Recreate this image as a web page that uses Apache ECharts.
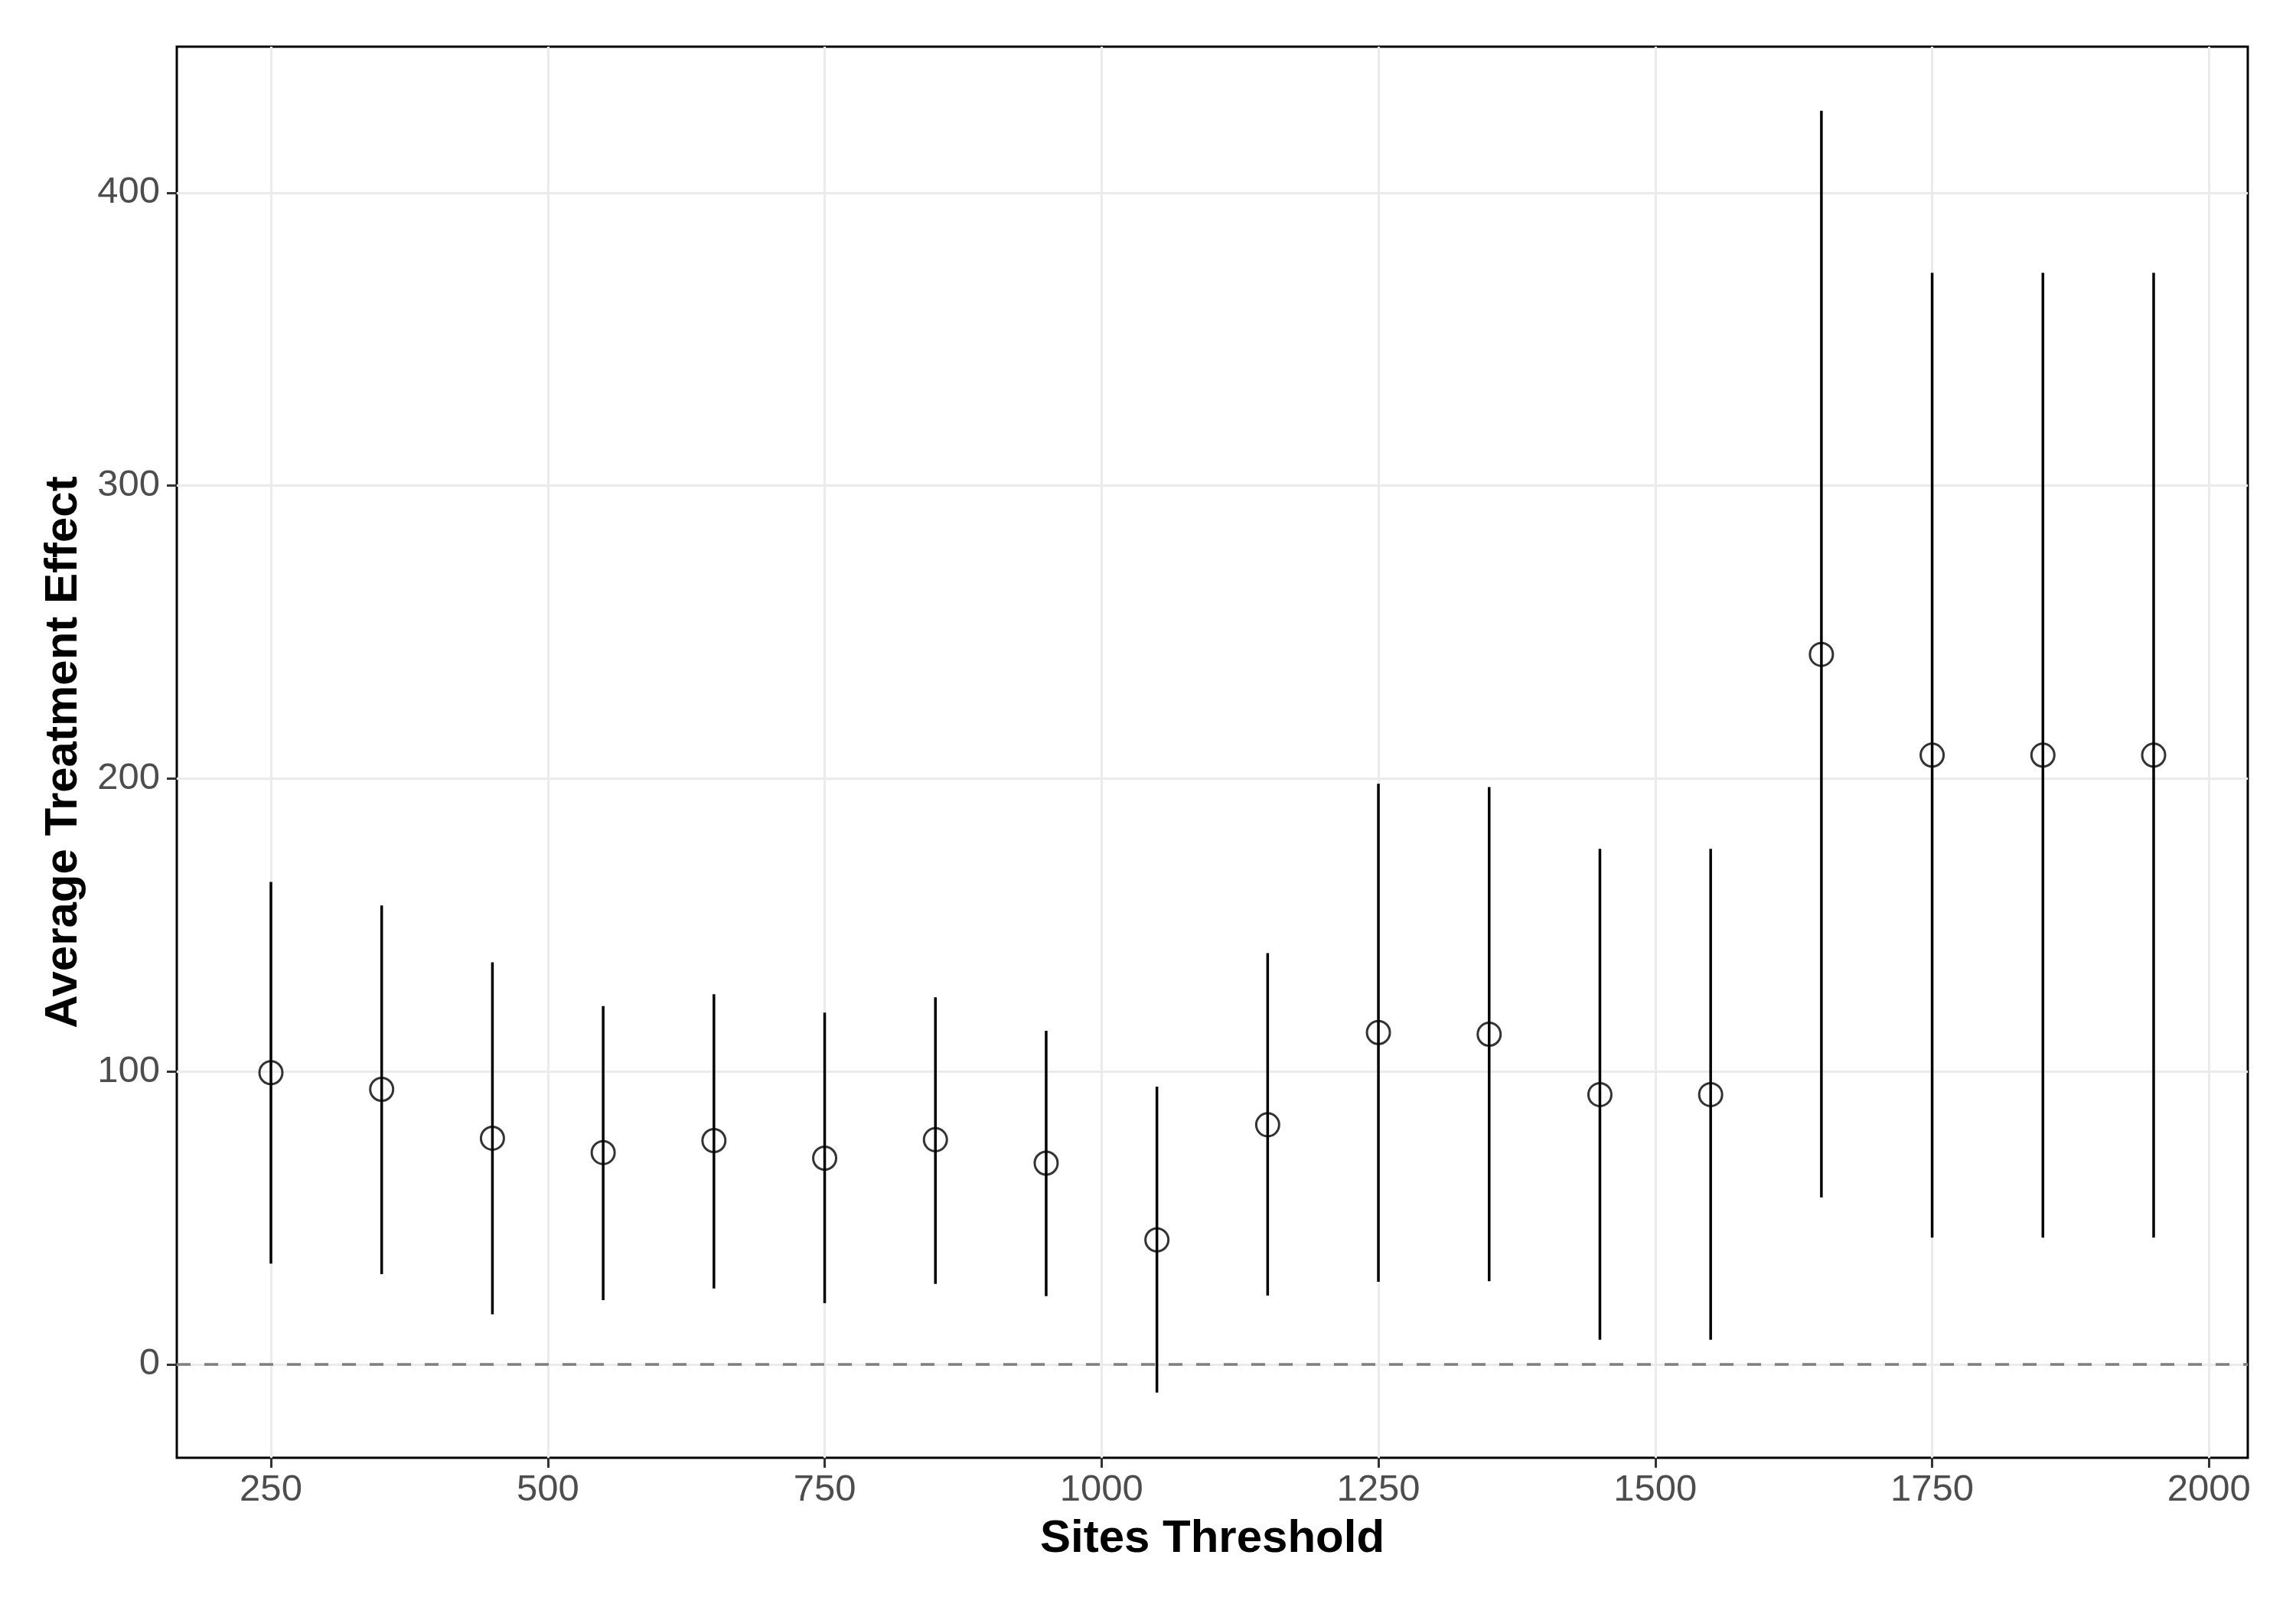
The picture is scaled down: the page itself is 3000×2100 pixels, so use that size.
<!DOCTYPE html>
<html>
<head>
<meta charset="utf-8">
<script src="https://cdn.jsdelivr.net/npm/echarts@6/dist/echarts.min.js"></script>
<style>
html,body{margin:0;padding:0;background:#fff;}
#chart{width:3000px;height:2100px;}
</style>
</head>
<body>
<div id="chart"></div>
<script>
const thresholds = [250, 350, 450, 550, 650, 750, 850, 950, 1050, 1150, 1250, 1350, 1450, 1550, 1650, 1750, 1850, 1950];
const ate = [99.6, 93.9, 77.2, 72.3, 76.4, 70.4, 76.7, 68.7, 42.5, 81.8, 113.3, 112.7, 92.1, 92.1, 242.4, 208.0, 208.0, 208.0];
const lower = [34.4, 30.8, 17.1, 21.9, 25.9, 20.9, 27.5, 23.3, -9.6, 23.5, 28.2, 28.4, 8.4, 8.4, 57.0, 43.3, 43.3, 43.3];
const upper = [164.7, 156.7, 137.3, 122.3, 126.4, 120.1, 125.3, 113.9, 94.8, 140.4, 198.2, 197.1, 176.0, 176.0, 428.0, 372.7, 372.7, 372.7];
const xTicks = [250, 500, 750, 1000, 1250, 1500, 1750, 2000];
const yTicks = [0, 100, 200, 300, 400];

const FONT = 'Liberation Sans';
const chart = echarts.init(document.getElementById('chart'), null, {renderer: 'canvas'});

const barData = thresholds.map((t, i) => [t, lower[i], upper[i]]);
const pointData = thresholds.map((t, i) => [t, ate[i]]);

chart.setOption({
  animation: false,
  backgroundColor: '#ffffff',
  grid: {
    left: 231, right: 63, top: 61, bottom: 195,
    show: true, borderColor: '#000000', borderWidth: 3, backgroundColor: 'transparent'
  },
  xAxis: {
    type: 'value',
    min: 165, max: 2035,
    name: 'Sites Threshold',
    nameLocation: 'middle',
    nameGap: 76,
    nameTextStyle: {fontFamily: FONT, fontWeight: 'bold', fontSize: 60, color: '#000000'},
    axisLine: {show: false, onZero: false},
    axisTick: {show: true, length: 13, lineStyle: {color: '#333333', width: 3}, customValues: xTicks},
    axisLabel: {fontFamily: FONT, fontSize: 49, color: '#4D4D4D', margin: 18, customValues: xTicks,
      formatter: function (v) { return String(v); }},
    splitLine: {show: true, lineStyle: {color: '#EBEBEB', width: 3}}
  },
  yAxis: {
    type: 'value',
    min: -31.9, max: 449.9,
    name: 'Average Treatment Effect',
    nameLocation: 'middle',
    nameGap: 118,
    nameTextStyle: {fontFamily: FONT, fontWeight: 'bold', fontSize: 60, color: '#000000'},
    axisLine: {show: false, onZero: false},
    axisTick: {show: true, length: 13, lineStyle: {color: '#333333', width: 3}, customValues: yTicks},
    axisLabel: {fontFamily: FONT, fontSize: 49, color: '#4D4D4D', margin: 22, customValues: yTicks,
      formatter: function (v) { return String(v); }},
    splitLine: {show: true, lineStyle: {color: '#EBEBEB', width: 3}}
  },
  series: [
    {
      type: 'custom',
      data: barData,
      z: 3,
      renderItem: function (params, api) {
        const x = api.value(0);
        const p1 = api.coord([x, api.value(1)]);
        const p2 = api.coord([x, api.value(2)]);
        return {
          type: 'line',
          shape: {x1: p1[0], y1: p1[1], x2: p2[0], y2: p2[1]},
          style: {stroke: '#000000', lineWidth: 3.5}
        };
      },
      markLine: {
        silent: true,
        symbol: ['none', 'none'],
        label: {show: false},
        lineStyle: {color: '#7F7F7F', width: 3.5, type: [18, 18]},
        data: [{yAxis: 0}]
      }
    },
    {
      type: 'scatter',
      data: pointData,
      z: 4,
      symbol: 'circle',
      symbolSize: 30,
      itemStyle: {color: 'rgba(0,0,0,0)', borderColor: '#000000', borderWidth: 3}
    }
  ]
});
</script>
</body>
</html>
